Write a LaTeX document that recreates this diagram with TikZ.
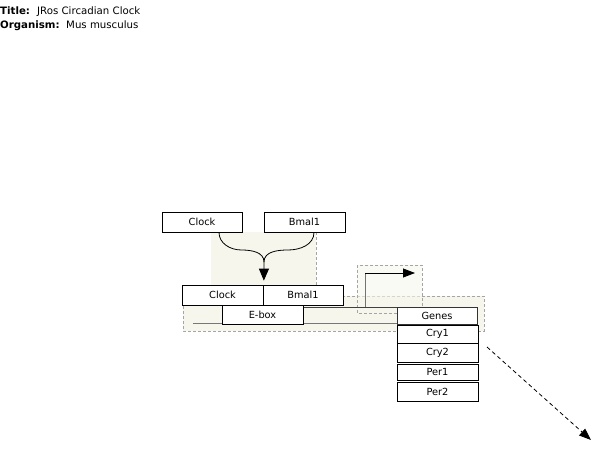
\documentclass[tikz,border=0pt]{standalone}
\usepackage{fontspec}
\setmainfont{DejaVu Sans}
\usetikzlibrary{arrows.meta,calc}
\definecolor{bgbeige}{RGB}{246,246,237}
\definecolor{dashgray}{RGB}{165,165,165}
\definecolor{linegray}{RGB}{120,120,120}
\tikzset{
  gbox/.style={draw=black, fill=white, line width=0.7pt, inner sep=0pt, font=\fontsize{9.8}{11}\selectfont},
  ttl/.style={inner sep=0pt, anchor=base west, font=\fontsize{10.2}{12}\selectfont},
  ttlb/.style={inner sep=0pt, anchor=base west, font=\bfseries\fontsize{10.2}{12}\selectfont},
  region/.style={fill=bgbeige, draw=dashgray, dash pattern=on 3pt off 2pt, line width=0.6pt},
  conn/.style={line width=0.8pt, draw=black},
}
\begin{document}
\begin{tikzpicture}[x=1pt,y=-1pt]
\useasboundingbox (0,0) rectangle (605,455);

% title
\node[ttlb] (tl) at (0,14) {Title:};
\node[ttl] (tv) at (37,14) {JRos Circadian Clock};
\node[ttlb] (ol) at (0,28) {Organism:};
\node[ttl] (ov) at (66,28) {Mus musculus};

% shaded area behind the complex-formation arrow
\fill[bgbeige] (211,232) rectangle (316,285);
\draw[dashgray, dash pattern=on 3pt off 2pt, line width=0.6pt] (316,232) -- (316,285);

% promoter region (big)
\draw[region] (183,296) rectangle (484,331);
% transcription start region
\draw[region, fill opacity=0.6] (357,265) rectangle (422,313);

% DNA band
\draw[linegray, line width=0.6pt] (193,323) -- (397,323);
\draw[black!75, line width=0.6pt] (303,307) -- (397,307);

% transcription start arrow
\coordinate (ps) at (365,307);
\coordinate (pc) at (365,273);
\coordinate (pe) at (415,273);
\draw[conn, draw=black!55] (ps) -- (pc);
\draw[conn, -{Triangle[length=12pt,width=9pt]}] (pc) -- (pe);

% top boxes
\node[gbox, minimum width=80pt, minimum height=20pt] (ct) at (202,222) {Clock};
\node[gbox, minimum width=81pt, minimum height=20pt] (bt) at (304.5,222) {Bmal1};

% complex
\node[gbox, minimum width=81pt, minimum height=20pt] (cc) at (222.5,295) {Clock};
\node[gbox, minimum width=80pt, minimum height=20pt] (bc) at (303,295) {Bmal1};
\node[gbox, minimum width=81pt, minimum height=19pt] (eb) at (262.5,314.5) {E-box};

% genes
\node[gbox, draw=black!80, minimum width=80pt, minimum height=17pt] (genes) at (437,316) {Genes};
\node[gbox, minimum width=81pt, minimum height=18pt] (cry1) at (437.5,334) {Cry1};
\node[gbox, minimum width=81pt, minimum height=19pt] (cry2) at (437.5,353) {Cry2};
\node[gbox, minimum width=81pt, minimum height=16pt] (per1) at (437.5,372) {Per1};
\node[gbox, minimum width=81pt, minimum height=19pt] (per2) at (437.5,391.5) {Per2};

% binding arrow
\coordinate (a1) at ($(ct.south)+(17,0)$);
\coordinate (a2) at ($(bt.south)+(9.5,0)$);
\coordinate (am) at (264,262);
\coordinate (at) at ($(cc.north east)+(0.5,-4)$);
\draw[conn] (a1) to[out=-90,in=180] (241.5,250) to[out=0,in=90] (am);
\draw[conn] (a2) to[out=-90,in=0] (288,250) to[out=180,in=90] (am);
\draw[conn, -{Triangle[length=12pt,width=10pt]}] (am) -- (at);

% dashed outgoing arrow
\coordinate (d1) at (487,347);
\coordinate (d2) at (591,440);
\draw[conn, dash pattern=on 4pt off 3pt, -{Triangle[length=12pt,width=9pt]}] (d1) -- (d2);
\end{tikzpicture}
\end{document}
